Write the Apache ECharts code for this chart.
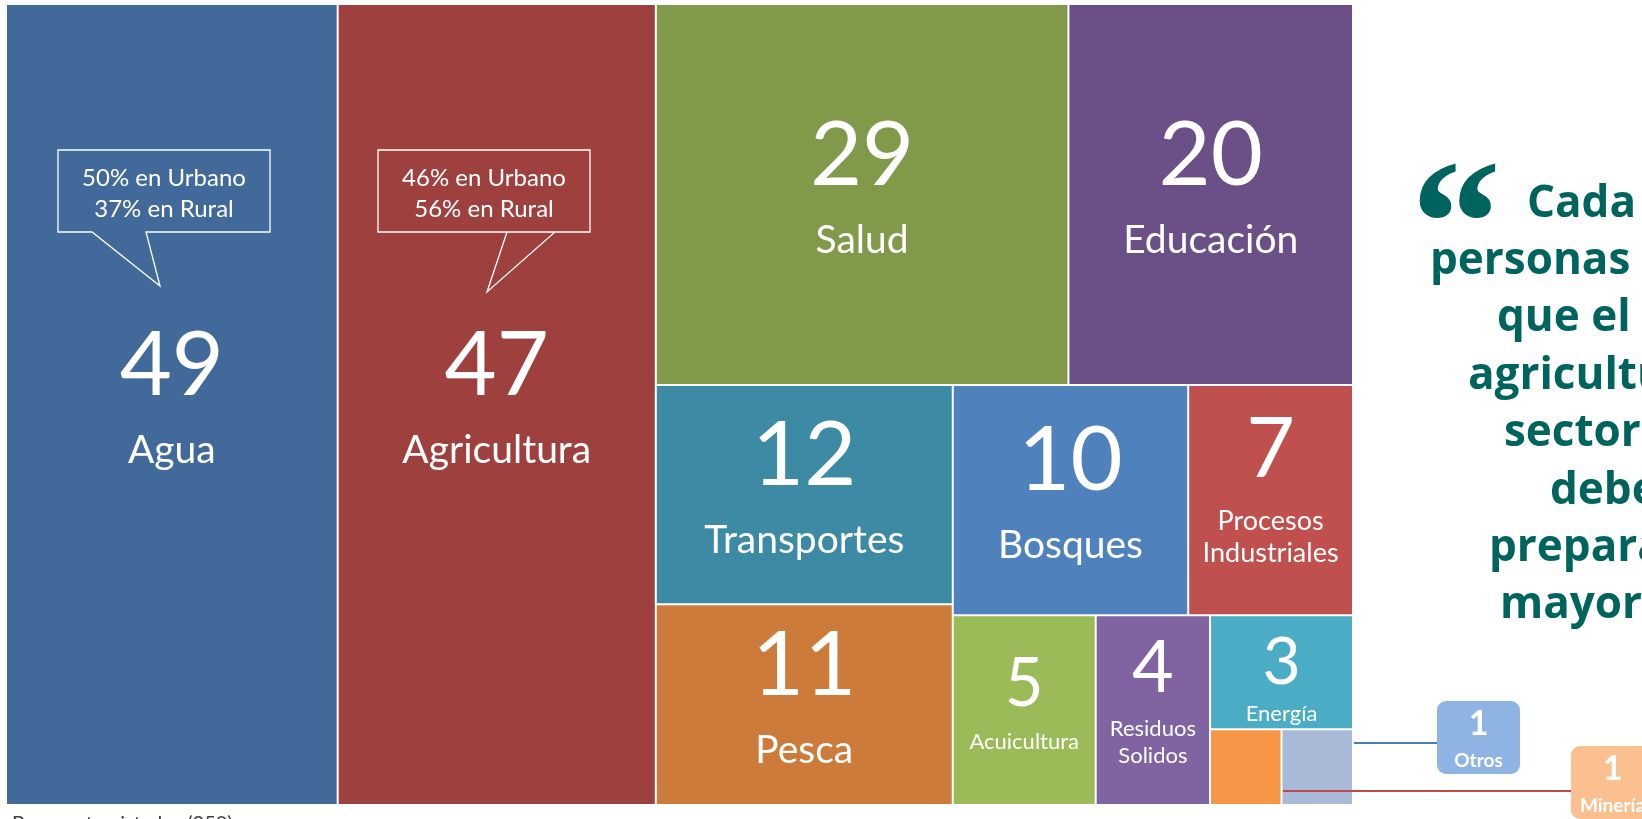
<!DOCTYPE html>
<html>
<head>
<meta charset="utf-8">
<script src="https://cdn.jsdelivr.net/npm/echarts@6/dist/echarts.min.js"></script>
<style>
  html, body { margin: 0; padding: 0; background: #fff; }
  #chart { width: 1642px; height: 819px; }
</style>
</head>
<body>
<div id="chart"></div>
<script>
// Datos
const sectores = ['Agua', 'Agricultura', 'Salud', 'Educación', 'Transportes', 'Pesca', 'Bosques',
  'Procesos Industriales', 'Acuicultura', 'Residuos Solidos', 'Energía', 'Minería', 'Otros'];
const menciones = [49, 47, 29, 20, 12, 11, 10, 7, 5, 4, 3, 1, 1];
// Agrupación de los bloques (índices de sectores), para que el treemap quede como el original
const agrupacion = [0, 1, [[2, 3], [[4, 5], [[6, 7], [8, 9, [10, [11, 12]]]]]]];
const desglose = {
  'Agua': ['50% en Urbano', '37% en Rural'],
  'Agricultura': ['46% en Urbano', '56% en Rural']
};
const textoCita = ['Cada', 'personas', 'que el', 'agricultura', 'sector', 'debe', 'prepararse', 'mayor'];
const notaBase = 'Base: entrevistados (250)';

// Estilos
const colores = ['#41699A', '#9E403E', '#809A4A', '#6A5087', '#3D8AA4', '#CC7B3A', '#4F81BD',
  '#C0504D', '#9BBB59', '#8064A2', '#4BACC6', '#F79646', '#A9B9D8'];
// [clase del número, clase del nombre, partir nombre en dos líneas]
const estiloEtiqueta = {
  'Agua': ['v1', 'n1'], 'Agricultura': ['v1', 'n1'], 'Salud': ['v1', 'n1'], 'Educación': ['v1', 'n1'],
  'Transportes': ['v1', 'n1'], 'Pesca': ['v1', 'n1'], 'Bosques': ['v1', 'n1'],
  'Procesos Industriales': ['v2', 'n2', true], 'Acuicultura': ['v4', 'n3'],
  'Residuos Solidos': ['v3', 'n3', true], 'Energía': ['v5', 'n3']
};
const fuente = 'Lato';
const verdeCita = '#00645E';
const rich = {
  v1: { fontSize: 90, lineHeight: 123 },
  v2: { fontSize: 84, lineHeight: 110 },
  v3: { fontSize: 72, lineHeight: 92 },
  v4: { fontSize: 67, lineHeight: 88 },
  v5: { fontSize: 66, lineHeight: 76 },
  n1: { fontSize: 39, lineHeight: 46 },
  n2: { fontSize: 27, lineHeight: 32 },
  n3: { fontSize: 22, lineHeight: 27 }
};
Object.keys(rich).forEach(k => { rich[k].color = '#fff'; rich[k].fontFamily = fuente; });
// ajuste vertical extra de cada bloque de texto
const ajusteVertical = { v1: -16, v2: -18, v3: -14, v4: -12, v5: 4 };

function construir(nodo) {
  if (Array.isArray(nodo)) {
    return { name: '', children: nodo.map(construir) };
  }
  const nombre = sectores[nodo];
  const e = estiloEtiqueta[nombre];
  const item = {
    name: nombre,
    value: menciones[nodo],
    itemStyle: { color: colores[nodo] },
    label: { show: !!e }
  };
  if (e) {
    // alto del bloque de texto, para centrarlo en la celda
    const alto = rich[e[0]].lineHeight + rich[e[1]].lineHeight * (e[2] ? 2 : 1);
    item.label.offset = [0, -alto / 2 + ajusteVertical[e[0]]];
  }
  return item;
}

const chart = echarts.init(document.getElementById('chart'));

// Globos de texto sobre Agua y Agricultura
function globo(x0, x1, cola) {
  return {
    type: 'polygon', z: 100, silent: true,
    shape: { points: [[x0, 150], [x1, 150], [x1, 232], [cola[2], 232], [cola[1], cola[3]], [cola[0], 232], [x0, 232]] },
    style: { fill: 'none', stroke: '#fff', lineWidth: 1.3 }
  };
}
const graficos = [];
graficos.push(globo(58, 270, [92, 160, 146, 286]));
graficos.push(globo(378, 590, [555, 487, 507, 292]));
[['Agua', 164], ['Agricultura', 484]].forEach(([n, cx]) => {
  desglose[n].forEach((linea, i) => {
    graficos.push({
      type: 'text', z: 101, silent: true, x: cx, y: 178 + i * 31,
      style: { text: linea, fill: '#fff', font: '24px ' + fuente, align: 'center', verticalAlign: 'middle' }
    });
  });
});

// Cita a la derecha
graficos.push({
  type: 'text', z: 100, silent: true, x: 1411, y: 146,
  style: { text: '\u201C', fill: verdeCita, font: 'bold 180px "Liberation Serif"', align: 'left', verticalAlign: 'top' }
});
const izqCita = [1527, 1430, 1497, 1468, 1504, 1550, 1489, 1500];
textoCita.forEach((t, i) => {
  graficos.push({
    type: 'text', z: 100, silent: true, x: izqCita[i], y: 220 + i * 57.4 - 16,
    style: { text: t, fill: verdeCita, font: 'bold 44px "Open Sans"', align: 'left', verticalAlign: 'middle' }
  });
});

// Llamadas para Otros y Minería
graficos.push({
  type: 'line', z: 100, silent: true,
  shape: { x1: 1354, y1: 743, x2: 1437, y2: 743 },
  style: { stroke: '#4A7EBB', lineWidth: 2 }
});
graficos.push({
  type: 'line', z: 100, silent: true,
  shape: { x1: 1283, y1: 791, x2: 1571, y2: 791 },
  style: { stroke: '#BE4B48', lineWidth: 2 }
});
[[12, 1437, 701, '#8DB4E2'], [11, 1571, 746, '#FAC08F']].forEach(([idx, x, y, c]) => {
  graficos.push({
    type: 'rect', z: 100, silent: true,
    shape: { x: x, y: y, width: 83, height: 73, r: 9 },
    style: { fill: c }
  });
  graficos.push({
    type: 'text', z: 101, silent: true, x: x + 41.5, y: y + 23,
    style: { text: String(menciones[idx]), fill: '#fff', font: 'bold 34px ' + fuente, align: 'center', verticalAlign: 'middle' }
  });
  graficos.push({
    type: 'text', z: 101, silent: true, x: x + 41.5, y: y + 60,
    style: { text: sectores[idx], fill: '#fff', font: 'bold 19px ' + fuente, align: 'center', verticalAlign: 'middle' }
  });
});

// Nota de base
graficos.push({
  type: 'text', z: 100, silent: true, x: 12, y: 814,
  style: { text: notaBase, fill: '#404040', font: '20px ' + fuente, align: 'left', verticalAlign: 'top' }
});

const option = {
  animation: false,
  series: [{
    type: 'treemap',
    left: 7, top: 5, width: 1345, height: 799,
    sort: false,
    squareRatio: 1e-6,
    roam: false,
    nodeClick: false,
    breadcrumb: { show: false },
    itemStyle: { borderWidth: 0, gapWidth: 2, borderColor: '#fff' },
    emphasis: { disabled: true },
    label: {
      show: true,
      position: ['50%', '50%'],
      align: 'center',
      verticalAlign: 'top',
      padding: 0,
      overflow: 'none',
      color: '#fff',
      fontFamily: fuente,
      formatter: function (p) {
        const e = estiloEtiqueta[p.name];
        if (!e) return '';
        const lineas = e[2] ? p.name.split(' ') : [p.name];
        return '{' + e[0] + '|' + p.value + '}\n' + lineas.map(l => '{' + e[1] + '|' + l + '}').join('\n');
      },
      rich: rich
    },
    upperLabel: { show: false },
    data: agrupacion.map(construir)
  }],
  graphic: { elements: graficos }
};

chart.setOption(option);
window.addEventListener('resize', function () { chart.resize(); });
</script>
</body>
</html>
